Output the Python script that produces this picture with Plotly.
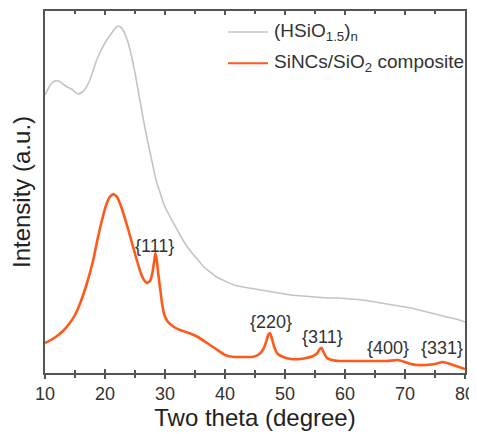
import plotly.graph_objects as go

# Gray: (HSiO1.5)n
x_hsio = [10, 10.5, 11, 11.6, 12.3, 13, 13.7, 14.4, 15, 15.6, 16.2, 16.8, 17.4, 18, 18.6, 19.2,
          19.8, 20.4, 21, 21.6, 22.1, 22.6, 23.1, 23.6, 24.1, 24.6, 25.1, 25.6, 26.1, 26.6,
          27.1, 27.6, 28.1, 28.6, 29.2, 29.8, 30.5, 31.5, 32.5, 33.5, 34.5, 35.5, 36.5, 37.5,
          38.6, 40, 41.5, 43, 45, 47, 49, 51, 53, 55, 57, 59, 61, 63, 65, 67, 69, 71, 73, 75,
          77, 78.5, 80]
y_hsio = [278, 284, 289, 292, 292, 289, 286, 284, 281, 279, 281, 285, 292, 302, 313, 321,
          328, 334, 339, 344, 347, 346, 342, 335, 325, 312, 297, 280, 263, 247,
          232, 218, 204, 191, 180, 169, 160, 149, 138, 128, 120, 113, 106, 101,
          96, 92, 88, 86, 84, 82, 80, 78, 77, 76, 75, 75, 74, 73, 71, 69, 67, 65, 62, 59,
          56, 54, 51]

# Orange: SiNCs/SiO2 composite
x_comp = [10, 11, 12, 13, 14, 15, 16, 17, 18, 18.8, 19.5, 20.2, 20.8, 21.4, 22, 22.6, 23.2,
          23.8, 24.5, 25.2, 25.9, 26.5, 27, 27.5, 27.9, 28.2, 28.4, 28.6, 28.9, 29.2, 29.5,
          29.9, 30.5, 31.5, 32.5, 34, 35.5, 37, 38.5, 40, 41.5, 43, 44.5, 45.5, 46.3, 46.8,
          47.2, 47.5, 47.8, 48.2, 48.8, 49.7, 51, 52.5, 53.5, 54.7, 55.4, 55.8, 56.1, 56.5,
          57, 57.8, 59, 61, 63, 65, 67, 68.8, 70, 71, 72, 73.5, 75, 76.2, 77, 78, 79, 80]
y_comp = [30, 33, 37, 42, 49, 58, 72, 90, 112, 135, 153, 168, 176, 179, 176, 168, 157,
          145, 130, 115, 101, 93, 90, 92, 100, 112, 120, 114, 98, 84, 70,
          58, 51, 46, 43, 40, 36, 30, 24, 18, 16, 16, 16, 18, 23, 30,
          38, 40, 35, 26, 19, 16, 14, 14, 15, 17, 20, 24, 25, 20,
          15, 13, 12, 12, 12, 12, 12, 13, 11, 9, 8, 8, 9, 11, 10, 8, 6, 4]

peak_labels = ["{111}", "{220}", "{311}", "{400}", "{331}"]
peak_x = [28.3, 47.7, 56.3, 67.2, 76.2]
peak_y = [127, 51, 36, 25, 25]

legend_names = ["(HSiO<sub>1.5</sub>)<sub>n</sub>", "SiNCs/SiO<sub>2</sub> composite"]
colors = ["#c4c4c4", "#ff5a1a"]

FONT = "Liberation Sans, Arial, Helvetica, sans-serif"
AX = "#555555"

fig = go.Figure()
fig.add_trace(go.Scatter(x=x_hsio, y=y_hsio, mode="lines", name=legend_names[0],
                         line=dict(color=colors[0], width=1.6, shape="spline", smoothing=0.6),
                         showlegend=False))
fig.add_trace(go.Scatter(x=x_comp, y=y_comp, mode="lines", name=legend_names[1],
                         line=dict(color=colors[1], width=2.6, shape="spline", smoothing=0.4),
                         showlegend=False))
# helper trace on the overlay axis (for inside ticks)
fig.add_trace(go.Scatter(x=[10, 80], y=[None, None], xaxis="x2", mode="lines",
                         showlegend=False, hoverinfo="skip"))

for t, xv, yv in zip(peak_labels, peak_x, peak_y):
    fig.add_annotation(x=xv, y=yv, text=t, showarrow=False,
                       font=dict(family=FONT, size=18, color="#333333"))

# manual legend
leg_y = [0.942, 0.856]
for i in range(2):
    fig.add_shape(type="line", xref="paper", yref="paper", x0=0.4357, x1=0.531,
                  y0=leg_y[i], y1=leg_y[i], line=dict(color=colors[i], width=2 if i else 1.6))
    fig.add_annotation(xref="paper", yref="paper", x=0.541, y=leg_y[i], xanchor="left",
                       yanchor="middle", text=legend_names[i], showarrow=False,
                       font=dict(family=FONT, size=19, color="#333333"))

# page body has an 8px default margin, so the figure is sized/margined to compensate
fig.update_layout(
    width=469, height=426,
    margin=dict(l=37, r=12, t=3, b=61, autoexpand=False),
    paper_bgcolor="white", plot_bgcolor="white",
    font=dict(family=FONT, color="#333333"),
    xaxis=dict(range=[10, 80], dtick=10, tick0=10, ticks="outside", ticklen=4, tickwidth=1.5,
               tickcolor=AX, showline=True, linecolor=AX, linewidth=1.5, mirror=True,
               showgrid=False, zeroline=False, automargin=False,
               minor=dict(dtick=5, ticks="outside", ticklen=3, tickwidth=1.5, tickcolor=AX),
               tickfont=dict(size=18, color="#333333"),
               title=dict(text="Two theta (degree)", font=dict(size=24, color="#222222"), standoff=6)),
    xaxis2=dict(range=[10, 80], overlaying="x", anchor="y", side="bottom", dtick=10, tick0=10,
                ticks="inside", ticklen=4, tickwidth=1.5, tickcolor=AX, mirror="ticks",
                showline=True, linecolor=AX, linewidth=1.5, automargin=False,
                showticklabels=False, showgrid=False, zeroline=False,
                minor=dict(dtick=5, ticks="inside", ticklen=3, tickwidth=1.5, tickcolor=AX)),
    yaxis=dict(range=[0, 362], showticklabels=False, ticks="", showline=True, linecolor=AX,
               linewidth=1.5, mirror=True, showgrid=False, zeroline=False, automargin=False,
               title=dict(text="Intensity (a.u.)", font=dict(size=24, color="#222222"), standoff=7)),
)

fig.write_html("out.html")
